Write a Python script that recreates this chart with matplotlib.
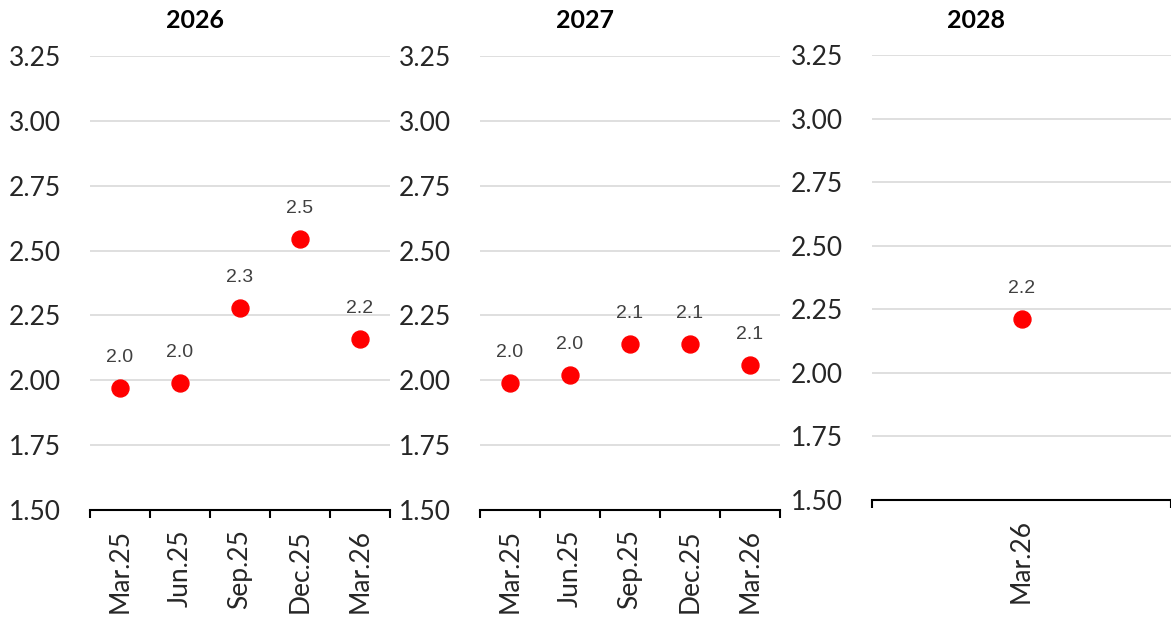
import matplotlib.pyplot as plt

# data
years = ["2026", "2027", "2028"]
cats_26 = ["Mar.25", "Jun.25", "Sep.25", "Dec.25", "Mar.26"]
vals_26 = [1.97, 1.99, 2.28, 2.546, 2.158]
cats_27 = ["Mar.25", "Jun.25", "Sep.25", "Dec.25", "Mar.26"]
vals_27 = [1.99, 2.02, 2.14, 2.14, 2.06]
cats_28 = ["Mar.26"]
vals_28 = [2.21]
yticks = [1.50, 1.75, 2.00, 2.25, 2.50, 2.75, 3.00, 3.25]

W, H = 1171, 618
fig = plt.figure(figsize=(W / 100, H / 100), dpi=100)

# axes boxes in pixels: left, right, top, bottom
boxes = [(90, 390, 56, 510), (480, 780, 56, 510), (872, 1171, 55, 500)]
title_x = [195, 585, 976]
panels = [(cats_26, vals_26), (cats_27, vals_27), (cats_28, vals_28)]

tick_font = "Lato"
for i, (cats, vals) in enumerate(panels):
    l, r, t, b = boxes[i]
    ax = fig.add_axes([l / W, 1 - b / H, (r - l) / W, (b - t) / H])
    x = list(range(len(cats)))
    ax.plot(x, vals, 'o', color='#ff0000', markersize=12.2, zorder=3, clip_on=False)
    for xi, v in zip(x, vals):
        ax.annotate(f"{v:.1f}", (xi, v), xytext=(0, 22), textcoords='offset points',
                    ha='center', va='center', fontsize=14, color='#404040',
                    family='Liberation Sans')
    ax.set_xlim(-0.5, len(cats) - 0.5)
    ax.set_ylim(1.5, 3.25)
    ax.set_yticks(yticks)
    ax.set_yticklabels([f"{y:.2f}" for y in yticks], family=tick_font, fontsize=19, color='#262626')
    ax.set_xticks(x)
    ax.set_xticklabels(cats, rotation=90, family=tick_font, fontsize=19, color='#262626')
    ax.set_xticks([k - 0.5 for k in range(len(cats) + 1)], minor=True)
    ax.tick_params(axis='x', which='major', length=0, pad=14)
    ax.tick_params(axis='x', which='minor', length=6, width=1.5, color='black', direction='out')
    ax.tick_params(axis='y', length=0, pad=21)
    ax.grid(axis='y', color='#d9d9d9', linewidth=1.2)
    ax.set_axisbelow(True)
    for s in ['top', 'right', 'left']:
        ax.spines[s].set_visible(False)
    ax.spines['bottom'].set_color('black')
    ax.spines['bottom'].set_linewidth(1.5)
    ax.spines['bottom'].set_zorder(4)
    fig.text(title_x[i] / W, 1 - 21 / H, years[i], ha='center', va='center',
             family=tick_font, fontweight='bold', fontsize=18, color='black')

fig.savefig("out.png", dpi=100)
